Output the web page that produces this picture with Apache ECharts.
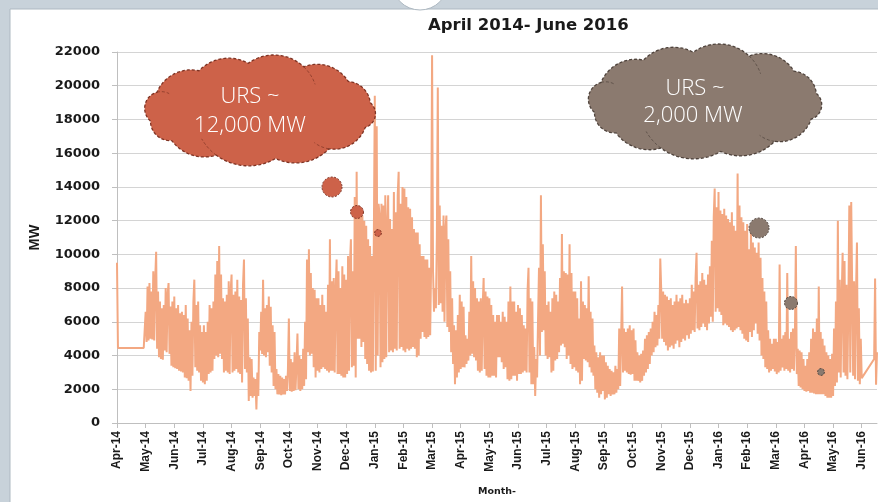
<!DOCTYPE html>
<html><head><meta charset="utf-8">
<script src="https://cdn.jsdelivr.net/npm/echarts@6/dist/echarts.min.js"></script>
<style>html,body{margin:0;padding:0;background:#fff}#c{width:878px;height:502px}</style>
</head><body><div id="c"></div>
<script>
const chartTitle = 'April 2014- June 2016';
const yAxisName = 'MW';
const xAxisName = 'Month-';
const monthLabels = ['Apr-14','May-14','Jun-14','Jul-14','Aug-14','Sep-14','Oct-14','Nov-14','Dec-14',
  'Jan-15','Feb-15','Mar-15','Apr-15','May-15','Jun-15','Jul-15','Aug-15','Sep-15','Oct-15','Nov-15','Dec-15',
  'Jan-16','Feb-16','Mar-16','Apr-16','May-16','Jun-16'];
const samplesPerMonth = 30;
const yMin = 0, yMax = 22000, yStep = 2000;

// Demand (MW), ~daily readings, Apr-2014 .. Dec-2014
const mw2014 = [
  9500,4450,4450,4450,4450,4450,4450,4450,4450,4450,4450,4450,4450,4450,4450,4450,4450,4450,4450,4450,4450,4450,4450,4450,4450,4450,4450,4450,4450,4450,
  6600,4800,8100,4900,8300,5000,7800,4950,9000,4900,8500,10150,4400,7800,3900,7200,3800,6800,3750,7000,4300,8000,4200,7600,8300,4100,6900,3400,7200,3300,
  7500,3250,6800,3200,7000,3100,6500,3050,6600,3000,6400,2700,7000,2650,6200,2500,5500,1900,6000,2800,7200,8500,3300,7000,3100,7200,3000,5800,2500,5400,
  2400,5800,2300,5400,2500,6000,2900,7000,3000,6800,3100,7200,3800,8800,4000,9600,3900,10500,4100,8800,3800,7400,3000,7200,3100,7600,3000,8400,2900,7800,
  8800,3000,7600,3100,7800,3200,8500,3000,7500,2900,7300,2400,8200,9700,3200,7400,3000,6200,1300,3900,1600,3800,1500,2700,1600,2600,800,3000,1600,5400,
  4300,6600,4100,8500,4000,6800,3900,7000,4200,7500,3400,6900,3000,5800,2200,5400,2000,3200,1700,2900,1700,2800,1650,2700,1700,2600,1700,2800,1900,3100,
  6200,1900,3800,1850,3600,1900,4200,1950,3500,5300,2000,4000,1900,3800,2000,4400,2200,6000,2600,9700,4200,10300,4000,8900,4100,8000,3300,7900,2700,7400,
  3100,7400,3000,7000,3200,7600,3300,7000,3200,6600,3100,8200,3000,10900,3100,8400,3100,8600,3000,7800,9700,2900,9000,2900,8000,2800,9300,2700,8800,2700,
  8500,2900,9900,3100,9500,10900,3300,9000,3400,13400,2700,14900,5000,12900,5000,12800,4500,12300,4800,12000,3800,11700,3500,10900,3100,10500,3000,9900,3050,11000
];
// Jan-2015 .. Dec-2015
const mw2015 = [
  19400,3100,17600,4000,13000,12300,3300,13000,3600,12900,3800,13500,3900,11800,13500,4200,12100,4300,11500,4200,13700,4400,12500,4300,13500,14900,4400,13000,4500,14000,
  4300,13900,4200,13400,4400,12800,4300,12700,4400,12200,4500,11500,4400,11300,3900,11300,4000,10600,5000,9900,5400,9900,5100,9700,5000,9700,5100,9200,5200,9300,
  21800,9000,6600,8000,6800,11000,19900,7000,12900,7100,11700,6600,12300,6000,11500,12300,5700,10900,5400,9000,4200,7400,3500,5800,2300,5500,2700,6400,3000,7600,
  3200,7200,3300,6900,3300,5200,3500,5000,3700,6600,4000,9900,4100,8400,3900,8000,3700,7400,3100,7200,3000,7400,3100,6900,8600,3200,7800,2800,7500,2700,
  7400,2700,7000,2800,6400,2800,6000,2700,6400,3900,6400,3900,6000,3600,6600,3200,6300,3300,6000,2600,7200,2500,8100,2600,7200,2800,7200,2800,6600,2500,
  7000,2900,6800,2900,6400,3000,5800,3100,5600,3000,7800,9200,3000,7400,2300,7200,2300,4500,1600,3800,2700,6200,9200,4000,13500,5400,10600,5500,9000,4000,
  7000,3800,7200,3900,6600,3000,7400,3100,7800,3700,7600,3800,7200,4200,8600,4600,11200,4700,9000,4500,8900,3800,8800,4000,10600,3500,8900,3200,7800,3300,
  7800,3100,7400,3000,6200,2300,8400,2500,7200,3800,7000,3700,6800,3600,8700,3300,6600,3000,6200,2800,4600,2000,4200,1800,3900,1500,4200,1700,4000,1900,
  4000,1400,3600,1500,3400,1700,3200,1600,3100,1700,3000,1700,3400,1800,3200,2000,5600,2200,5000,8100,3000,5600,3100,5400,3000,5600,2900,5800,2860,5500,
  2900,5600,2500,4900,2500,4200,2500,4000,2400,4100,2500,4300,2800,5000,3000,5200,3200,5400,3500,5600,4000,6000,4200,6600,4500,6400,4600,7000,5000,9750,
  7900,5000,7800,4800,7600,4600,7500,4300,7300,4500,7400,4600,7000,4400,7200,4700,7600,4900,7200,4500,7400,4800,7600,5000,7100,4900,7300,5200,7100,5000,
  7400,5300,8200,5500,7800,5400,8600,10100,5600,8200,5500,8400,5700,8900,5900,8500,5700,8200,5500,8800,5900,9300,6300,10800,6000,12200,13900,6600,12800,6800
];
// Jan-2016 .. Jun-2016 (gap in June)
const mw2016 = [
  13700,6600,12600,6400,12400,5800,12700,5900,12300,5800,12100,5700,11900,5500,12500,5400,11700,5500,11400,5600,14800,5700,12900,5500,12200,5300,11900,5000,11400,4900,
  11800,4800,10300,5400,11700,5100,10700,5500,10400,5900,10100,5300,10700,4900,9800,4000,8600,3800,7800,3300,7200,3200,5500,3000,5000,3100,4700,3200,5000,3050,
  5000,2900,4800,3000,9400,3100,5000,3300,5200,3100,5400,3200,8900,3100,5000,3000,5400,3200,5600,3100,5000,10500,2900,4400,2200,4300,2100,4200,2000,3800,
  1900,3400,1850,3800,1900,4200,1800,5000,1800,5600,1750,5400,1700,6200,1700,8100,1700,5400,1700,5000,1700,4600,1600,4200,1500,4000,1500,3800,1500,4100,
  1600,5600,2200,7200,2400,12000,3000,8500,2700,7400,10100,3000,9600,2800,8200,2600,7000,12900,3000,13100,13000,2800,8400,2600,7600,10700,2500,6800,2300,5000,
  2660,null,null,null,null,null,null,null,null,null,null,null,null,3800,8570,2270,4200
];

// Callout clouds
const cloudTexts = [['URS ~','12,000 MW'],['URS ~','2,000 MW']];

const values = mw2014.concat(mw2015, mw2016);
const categories = values.map((v, i) => {
  const m = Math.floor(i / samplesPerMonth), k = i % samplesPerMonth;
  return k === 0 ? monthLabels[m] : monthLabels[m] + '#' + k;
});

const lineColor = '#f3a882';
const redFill = '#cd6249', redStroke = '#7e3324';
const brownFill = '#8b7a6f', brownStroke = '#4f433c';

// Cloud outline: circular bumps between anchor points on an ellipse
const anchorDeg = [168, 203, 237, 264, 293, 322, 350, 20, 52, 82, 113, 142];
const bulge = [0.3, 0.18, 0.17, 0.18, 0.18, 0.18, 0.3, 0.18, 0.16, 0.15, 0.16, 0.22];
const innerBumps = [0, 3, 7, 9];
const cloudEls = [];
function cloud(cx, cy, a, b, fill, stroke) {
  const anchors = anchorDeg.map(d => { const t = d*Math.PI/180; return [cx + a*Math.cos(t), cy + b*Math.sin(t)]; });
  const pts = [], inner = [];
  anchors.forEach((A, k) => {
    const B = anchors[(k+1) % anchors.length];
    const mx = (A[0]+B[0])/2, my = (A[1]+B[1])/2;
    const c = Math.hypot(B[0]-A[0], B[1]-A[1]);
    const h = bulge[k]*c;
    const R = (c*c/4 + h*h)/(2*h);
    let nx = -(B[1]-A[1])/c, ny = (B[0]-A[0])/c;
    if (nx*(mx-cx) + ny*(my-cy) < 0) { nx = -nx; ny = -ny; }
    const Cx = mx - nx*(R-h), Cy = my - ny*(R-h);
    const a0 = Math.atan2(A[1]-Cy, A[0]-Cx), a1 = Math.atan2(B[1]-Cy, B[0]-Cx);
    let d = a1 - a0; while (d > Math.PI) d -= 2*Math.PI; while (d < -Math.PI) d += 2*Math.PI;
    const midA = a0 + d/2;
    if (Math.cos(midA)*nx + Math.sin(midA)*ny < 0) d = d > 0 ? d - 2*Math.PI : d + 2*Math.PI;
    for (let s = 0; s < 14; s++) { const t = a0 + d*s/14; pts.push([Cx + R*Math.cos(t), Cy + R*Math.sin(t)]); }
    if (innerBumps.indexOf(k) >= 0) {
      const ip = [];
      for (let s = 0; s <= 8; s++) { const t = a1 + d*0.35*s/8; ip.push([Cx + R*Math.cos(t), Cy + R*Math.sin(t)]); }
      inner.push(ip);
    }
  });
  cloudEls.push({type:'polygon', z:20, shape:{points:pts}, style:{fill, stroke, lineWidth:1.3, lineDash:[3,2]}});
  inner.forEach(ip => cloudEls.push({type:'polyline', z:21, shape:{points:ip}, style:{stroke, fill:'none', lineWidth:1, lineDash:[3,2], opacity:0.7}}));
}
cloud(260, 111, 112, 48, redFill, redStroke);
cloud(705, 102, 113, 50, brownFill, brownStroke);
function txt(t, x, y) {
  return {type:'text', z:30, style:{text:t, x, y, fill:'#ffffff', font:'300 22px "Open Sans", Lato, sans-serif', textAlign:'center', textVerticalAlign:'middle', align:'center', verticalAlign:'middle'}};
}
function bubble(cx, cy, r, fill, stroke) {
  return {type:'circle', z:25, shape:{cx,cy,r}, style:{fill, stroke, lineWidth:1, lineDash:[2,1.5]}};
}

const chart = echarts.init(document.getElementById('c'), null, {renderer:'canvas', width:878, height:502});
chart.setOption({
  animation:false,
  backgroundColor:'#ffffff',
  title:{text:chartTitle, left:428, top:17, padding:0, textStyle:{fontFamily:'DejaVu Sans', fontWeight:'bold', fontSize:16.5, color:'#1a1a1a'}},
  grid:{left:117, right:1, top:52, bottom:78, containLabel:false},
  xAxis:{
    type:'category', data:categories, boundaryGap:false,
    name:xAxisName, nameLocation:'middle', nameGap:64,
    nameTextStyle:{fontFamily:'DejaVu Sans', fontWeight:'bold', fontSize:9.5, color:'#1a1a1a'},
    axisLine:{show:true, lineStyle:{color:'#bfbfbf', width:1}},
    axisTick:{show:true, length:5, interval:(i)=> i % samplesPerMonth === 0, lineStyle:{color:'#bfbfbf'}},
    axisLabel:{interval:(i)=> i % samplesPerMonth === 0, rotate:90, margin:8, fontFamily:'Liberation Sans', fontWeight:'bold', fontSize:12, color:'#1a1a1a',
      formatter:(v)=> v.indexOf('#') >= 0 ? '' : v},
    splitLine:{show:false}
  },
  yAxis:{
    type:'value', min:yMin, max:yMax, interval:yStep,
    name:yAxisName, nameLocation:'middle', nameGap:75,
    nameTextStyle:{fontFamily:'Liberation Sans', fontWeight:'bold', fontSize:14.5, color:'#1a1a1a'},
    axisLine:{show:true, lineStyle:{color:'#bfbfbf', width:1}},
    axisTick:{show:true, length:5, lineStyle:{color:'#bfbfbf'}},
    axisLabel:{margin:17, fontFamily:'DejaVu Sans', fontWeight:'bold', fontSize:13, color:'#1a1a1a', formatter:(v)=> String(v)},
    splitLine:{show:true, lineStyle:{color:'#d4d4d4', width:1}}
  },
  series:[{
    type:'line', data:values, showSymbol:false, symbol:'none', connectNulls:true,
    lineStyle:{color:lineColor, width:2}, itemStyle:{color:lineColor}, z:3
  }],
  graphic:[
    {type:'rect', z:40, shape:{x:0, y:0, width:10, height:502}, style:{fill:'#c8d2da'}},
    {type:'rect', z:40, shape:{x:0, y:0, width:878, height:9}, style:{fill:'#c8d2da'}},
    {type:'line', z:41, shape:{x1:10, y1:9, x2:10, y2:502}, style:{stroke:'#aeb9c2', lineWidth:1}},
    {type:'line', z:41, shape:{x1:10, y1:9, x2:878, y2:9}, style:{stroke:'#aeb9c2', lineWidth:1}},
    {type:'circle', z:42, shape:{cx:420, cy:-18, r:28}, style:{fill:'#ffffff', stroke:'#aeb9c2', lineWidth:1}}
  ].concat(cloudEls, [
    txt(cloudTexts[0][0], 250, 97), txt(cloudTexts[0][1], 250, 126),
    txt(cloudTexts[1][0], 695, 89), txt(cloudTexts[1][1], 693, 116),
    bubble(332, 187, 10, redFill, redStroke), bubble(357, 212, 6.5, redFill, redStroke), bubble(378, 233, 3.4, redFill, redStroke),
    bubble(759, 228, 10, brownFill, brownStroke), bubble(791, 303, 6.5, brownFill, brownStroke), bubble(821, 372, 3.4, brownFill, brownStroke)
  ])
});
</script></body></html>
